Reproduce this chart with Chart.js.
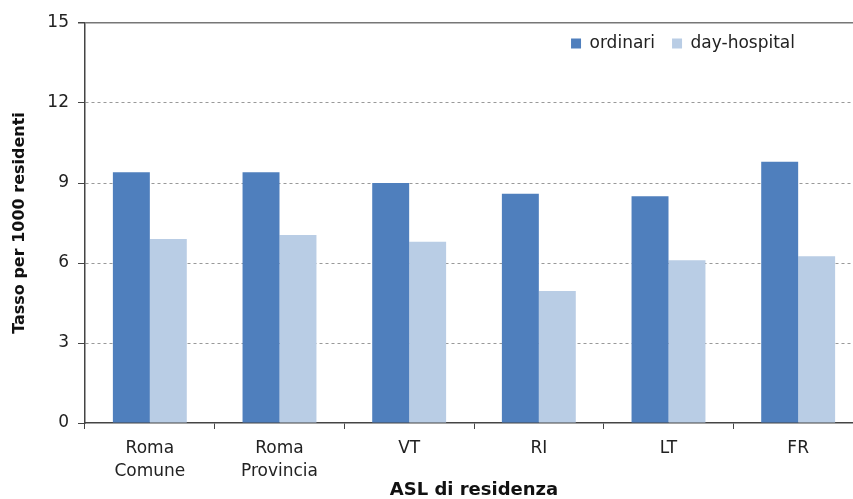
<!DOCTYPE html>
<html>
<head>
<meta charset="utf-8">
<script src="https://cdn.jsdelivr.net/npm/chart.js@4/dist/chart.umd.min.js"></script>
<style>
  html, body { margin: 0; padding: 0; background: #fff; overflow: hidden; }
  #wrap { width: 866px; height: 499px; }
</style>
</head>
<body>
<div id="wrap"><canvas id="chart"></canvas></div>
<script>
// categories (ASL di residenza)
var asl = [['Roma', 'Comune'], ['Roma', 'Provincia'], 'VT', 'RI', 'LT', 'FR'];
// tasso per 1000 residenti
var ordinari = [9.4, 9.4, 9.0, 8.6, 8.5, 9.8];
var dayHospital = [6.9, 7.05, 6.8, 4.95, 6.1, 6.25];
var yTicks = [0, 3, 6, 9, 12, 15];

var FONT = '"DejaVu Sans", "Liberation Sans", Arial, sans-serif';

// legend sits inside the plot, top right, without pushing the plot down
var legendInside = {
    id: 'legendInside',
    beforeUpdate: function(chart){
        var lg = chart.legend;
        if (lg && !lg._flat) {
            var fit = lg.fit;
            lg.fit = function(){ fit.call(this); this.height = 0; };
            lg._flat = true;
        }
    },
    afterLayout: function(chart){
        var lg = chart.legend;
        lg.top = 18;
        lg.bottom = 70;
        lg.height = 52;
        lg.right = 812;
    }
};

new Chart('chart', {
    type: 'bar',
    data: {
        labels: asl,
        datasets: [
            {
                label: 'ordinari',
                data: ordinari,
                backgroundColor: '#4f7fbd'
            },
            {
                label: 'day-hospital',
                data: dayHospital,
                backgroundColor: '#b9cde5'
            }
        ]
    },
    options: {
        responsive: true,
        maintainAspectRatio: false,
        animation: false,
        layout: { padding: { top: 23, right: 3, bottom: 0, left: 0 } },
        datasets: { bar: { categoryPercentage: 0.57, barPercentage: 1.0 } },
        plugins: {
            tooltip: { enabled: false },
            legend: {
                position: 'top',
                align: 'end',
                labels: {
                    boxWidth: 10,
                    boxHeight: 10,
                    padding: 17,
                    color: '#222',
                    font: { family: FONT, size: 17 }
                }
            }
        },
        scales: {
            x: {
                afterFit: function(s){ s.height = 76; },
                grid: {
                    drawOnChartArea: false,
                    drawTicks: true,
                    tickLength: 6,
                    tickColor: '#444'
                },
                border: { color: '#444', width: 1.5 },
                ticks: {
                    color: '#222',
                    padding: 9,
                    maxRotation: 0,
                    font: { family: FONT, size: 17, lineHeight: 1.3 }
                },
                title: {
                    display: true,
                    text: 'ASL di residenza',
                    color: '#111',
                    padding: { top: 0, bottom: 0 },
                    font: { family: FONT, size: 18, weight: 'bold', lineHeight: 1.0 }
                }
            },
            y: {
                min: 0,
                max: 15,
                afterFit: function(s){ s.width = 85; },
                afterBuildTicks: function(s){
                    s.ticks = yTicks.map(function(v){ return { value: v }; });
                },
                grid: {
                    color: function(c){
                        if (!c.tick) return '#999';
                        if (c.tick.value === 0) return 'rgba(0,0,0,0)';
                        return c.tick.value === 15 ? '#777' : '#999';
                    },
                    lineWidth: function(c){ return c.tick && c.tick.value === 15 ? 1.5 : 1; },
                    tickLength: 7,
                    tickColor: '#444',
                    tickBorderDash: []
                },
                border: {
                    color: '#444',
                    width: 1.5,
                    dash: function(c){ return c.tick && c.tick.value === 15 ? [] : [3, 3]; }
                },
                ticks: {
                    color: '#222',
                    padding: 9,
                    font: { family: FONT, size: 17 }
                },
                title: {
                    display: true,
                    text: 'Tasso per 1000 residenti',
                    color: '#111',
                    padding: { top: 10, bottom: 0 },
                    font: { family: FONT, size: 16, weight: 'bold', lineHeight: 1.2 }
                }
            }
        }
    },
    plugins: [legendInside]
});
</script>
</body>
</html>
